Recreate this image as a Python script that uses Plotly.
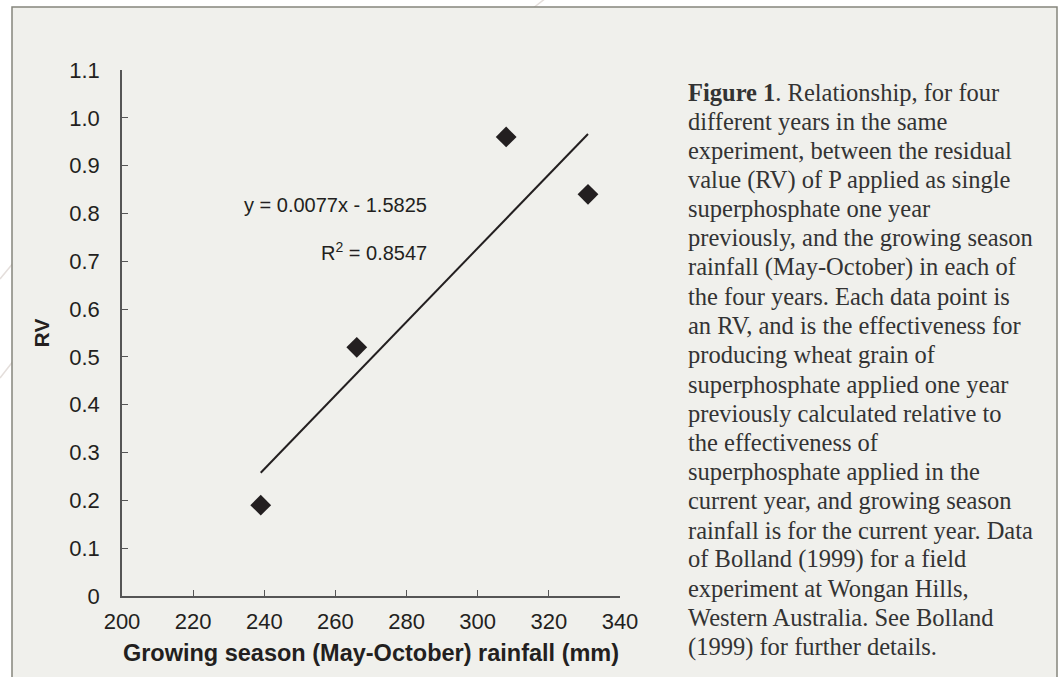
import plotly.graph_objects as go

# data
rainfall = [239, 266, 308, 331]
rv = [0.19, 0.52, 0.96, 0.84]
slope = 0.0077
intercept = -1.5825
r_squared = 0.8547

caption_lines = [
    "<b>Figure 1</b>. Relationship, for four",
    "different years in the same",
    "experiment, between the residual",
    "value (RV) of P applied as single",
    "superphosphate one year",
    "previously, and the growing season",
    "rainfall (May-October) in each of",
    "the four years. Each data point is",
    "an RV, and is the effectiveness for",
    "producing wheat grain of",
    "superphosphate applied one year",
    "previously calculated relative to",
    "the effectiveness of",
    "superphosphate applied in the",
    "current year, and growing season",
    "rainfall is for the current year. Data",
    "of Bolland (1999) for a field",
    "experiment at Wongan Hills,",
    "Western Australia. See Bolland",
    "(1999) for further details.",
]

W, H = 1058, 677
L, R, T, B = 122, 620, 70, 596  # plot area in pixels
ink = "#231f20"


def px(x):
    return (x - L) / (R - L)


def py(y):
    return (B - y) / (B - T)


fit_x = [min(rainfall), max(rainfall)]
fit_y = [slope * x + intercept for x in fit_x]

fig = go.Figure()
fig.add_trace(go.Scatter(x=fit_x, y=fit_y, mode="lines",
                         line=dict(color=ink, width=2), hoverinfo="skip"))
fig.add_trace(go.Scatter(x=rainfall, y=rv, mode="markers",
                         marker=dict(symbol="diamond", size=16, color=ink)))

# panel background and frame
shapes = [
    dict(type="line", xref="paper", yref="paper", x0=px(546), y0=py(-2), x1=px(528), y1=py(12),
         line=dict(color="#e4dedb", width=1.5), layer="below"),
    dict(type="line", xref="paper", yref="paper", x0=px(0), y0=py(279), x1=px(14), y1=py(262),
         line=dict(color="#e4dedb", width=1.5), layer="below"),
    dict(type="line", xref="paper", yref="paper", x0=px(0), y0=py(378), x1=px(14), y1=py(360),
         line=dict(color="#e4dedb", width=1.5), layer="below"),
    dict(type="rect", xref="paper", yref="paper", x0=px(12), y0=py(690), x1=px(1057), y1=py(7),
         fillcolor="#f0f0ec", line=dict(color="#85857c", width=1.5), layer="below"),
]

annotations = [
    dict(text="y = 0.0077x - 1.5825", x=px(429), y=py(205), xref="paper", yref="paper",
         xanchor="right", yanchor="middle", showarrow=False,
         font=dict(family="Liberation Sans", size=20, color=ink)),
    dict(text="R<sup>2</sup> = %.4f" % r_squared, x=px(429), y=py(252), xref="paper", yref="paper",
         xanchor="right", yanchor="middle", showarrow=False,
         font=dict(family="Liberation Sans", size=20, color=ink)),
]
for i, line in enumerate(caption_lines):
    annotations.append(dict(text=line, x=px(686), y=py(92 + i * 29.2), xref="paper", yref="paper",
                            xanchor="left", yanchor="middle", showarrow=False,
                            font=dict(family="Liberation Serif", size=24.5, color="#333333")))

fig.update_layout(
    width=W, height=H,
    margin=dict(l=L, r=W - R, t=T, b=H - B, autoexpand=False),
    paper_bgcolor="white", plot_bgcolor="rgba(0,0,0,0)",
    showlegend=False,
    shapes=shapes, annotations=annotations,
    font=dict(family="Liberation Sans", color=ink),
)
fig.update_xaxes(range=[200, 340], tickvals=list(range(200, 341, 20)),
                 showgrid=False, zeroline=False, showline=True, linecolor="#555555", linewidth=1.5,
                 ticks="inside", ticklen=6, tickcolor="#555555", tickwidth=1.2,
                 tickfont=dict(size=22, color=ink), ticklabelstandoff=5,
                 title=dict(text="<b>Growing season (May-October) rainfall (mm)</b>",
                            font=dict(size=23.5, color=ink), standoff=11))
fig.update_yaxes(range=[0, 1.1], tickvals=[i / 10 for i in range(12)],
                 ticktext=["0"] + ["%.1f" % (i / 10) for i in range(1, 12)],
                 showgrid=False, zeroline=False, showline=True, linecolor="#555555", linewidth=1.5,
                 ticks="inside", ticklen=6, tickcolor="#555555", tickwidth=1.2,
                 tickfont=dict(size=22, color=ink), ticklabelstandoff=16,
                 title=dict(text="<b>RV</b>", font=dict(size=21, color=ink), standoff=14))

fig.write_html("out.html", config={"displayModeBar": False},
               post_script="document.body.style.margin='0';")
